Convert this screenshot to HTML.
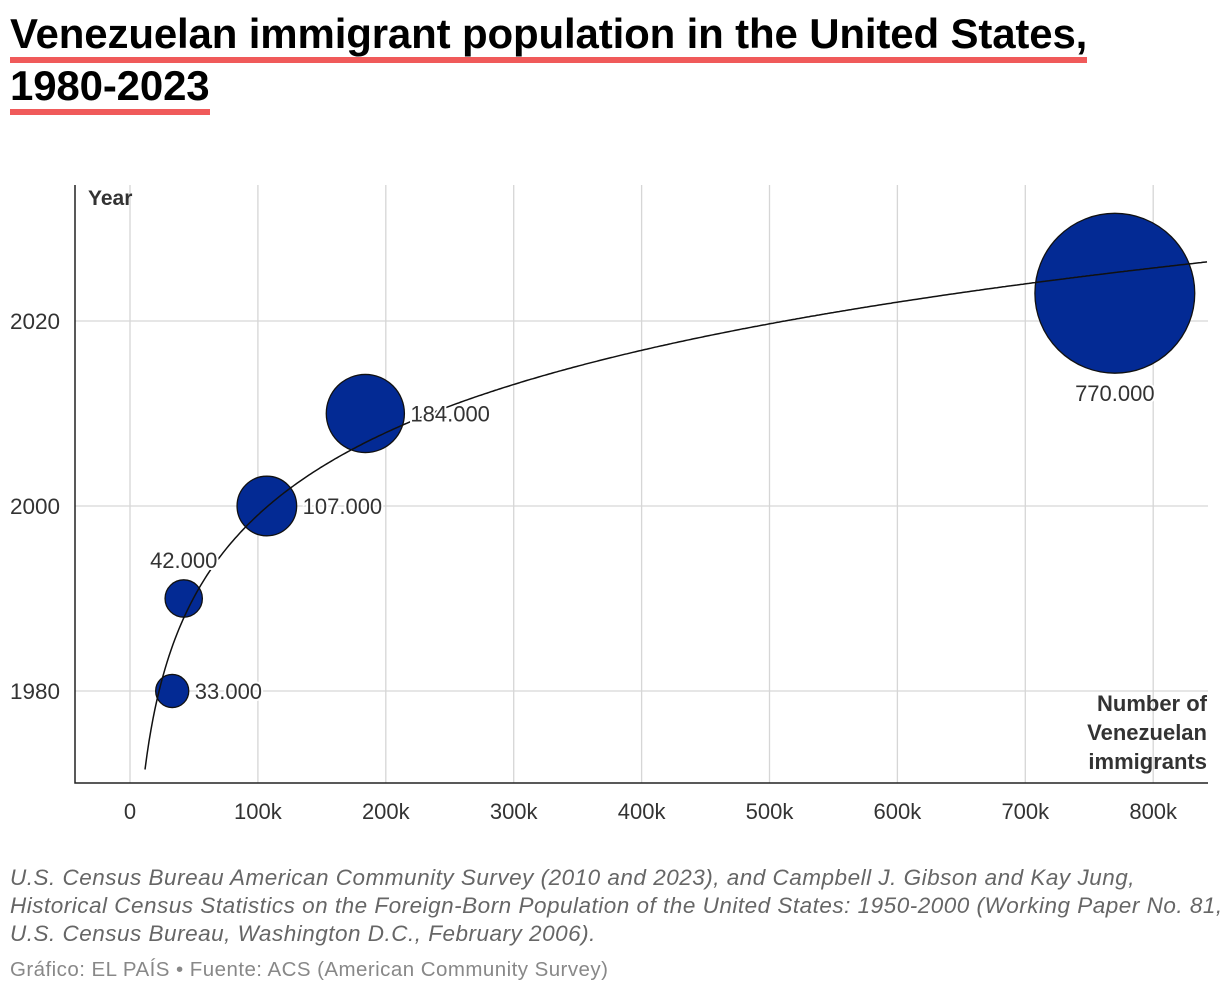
<!DOCTYPE html>
<html><head><meta charset="utf-8">
<style>
body{margin:0;width:1220px;height:994px;background:#fff;font-family:"Liberation Sans",sans-serif;overflow:hidden;position:relative}
h1{position:absolute;left:10px;top:8px;margin:0;font-size:42px;line-height:52px;font-weight:bold;color:#000;width:1200px;letter-spacing:-0.15px;white-space:nowrap}
h1 span{border-bottom:6px solid #f05a5a;padding-bottom:0}
.note{position:absolute;left:10px;top:864px;font-size:22.5px;line-height:28px;font-style:italic;color:#666;width:1210px;white-space:nowrap;letter-spacing:0.5px}
.credit{position:absolute;left:10px;top:958px;font-size:20.5px;color:#888;letter-spacing:0.45px}
svg{position:absolute;left:0;top:0}
</style></head><body>
<h1><span>Venezuelan immigrant population in the United States,</span><br><span>1980-2023</span></h1>
<svg id="chart" width="1220" height="994"></svg>
<div class="note">U.S. Census Bureau American Community Survey (2010 and 2023), and Campbell J. Gibson and Kay Jung,<br>Historical Census Statistics on the Foreign-Born Population of the United States: 1950-2000 (Working Paper No. 81,<br>U.S. Census Bureau, Washington D.C., February 2006).</div>
<div class="credit">Gráfico: EL PAÍS • Fuente: ACS (American Community Survey)</div>
<script>
const years = [1980, 1990, 2000, 2010, 2023];
const values = [33000, 42000, 107000, 184000, 770000];
const valueLabels = ["33.000", "42.000", "107.000", "184.000", "770.000"];
const xTicks = [0, 100000, 200000, 300000, 400000, 500000, 600000, 700000, 800000];
const xTickLabels = ["0", "100k", "200k", "300k", "400k", "500k", "600k", "700k", "800k"];
const yTicks = [1980, 2000, 2020];
const trendA = 1939.9, trendB = 12.84;

const NS = "http://www.w3.org/2000/svg";
const svg = document.getElementById('chart');
const L = 75, R = 1208, T = 185, B = 783;
const x = v => 130 + v / 100000 * 127.9;
const y = yr => 321 - (yr - 2020) * 9.25;
const rad = v => 2.88 * Math.sqrt(v / 1000);
function mk(tag, attrs, parent) {
  const e = document.createElementNS(NS, tag);
  for (const k in attrs) e.setAttribute(k, attrs[k]);
  (parent || svg).appendChild(e);
  return e;
}
xTicks.forEach((t, i) => {
  const g = mk('line', {x1: x(t), x2: x(t), y1: T, y2: B, stroke: '#d6d6d6', 'stroke-width': 1.3});
  
  
  const tx = mk('text', {x: x(t), y: 819, 'text-anchor': 'middle', 'font-size': 22, fill: '#333'});
  tx.textContent = xTickLabels[i];
  
  
});
yTicks.forEach(t => {
  const g = mk('line', {x1: L, x2: R, y1: y(t), y2: y(t), stroke: '#d6d6d6', 'stroke-width': 1.3});
  
  
  const tx = mk('text', {x: 10, y: y(t) + 8, 'font-size': 22.5, fill: '#333'});
  tx.textContent = t;
  
  
});
const ax = mk('path', {d: `M${L} ${T}V${B}H${R}`, fill: 'none', stroke: '#222', 'stroke-width': 1.5});


const yt = mk('text', {x: 88, y: 205, 'font-size': 21, 'font-weight': 'bold', fill: '#333'});
yt.textContent = 'Year';


['Number of', 'Venezuelan', 'immigrants'].forEach((s, i) => {
  const t = mk('text', {x: 1207, y: 711 + i * 29, 'text-anchor': 'end', 'font-size': 22, 'font-weight': 'bold', fill: '#333'});
  t.textContent = s;
  
  
});
years.forEach((yr, i) => {
  const c = mk('circle', {cx: x(values[i]), cy: y(yr), r: rad(values[i]), fill: '#032a94', stroke: '#111', 'stroke-width': 1.3});
  
  
});
let d = '';
for (let px = 145; px <= R; px += 2) {
  const v = (px - 130) / 127.9 * 100;
  const yr = trendA + trendB * Math.log(v);
  d += (d ? 'L' : 'M') + px + ' ' + y(yr).toFixed(1);
}
const tl = mk('path', {d, fill: 'none', stroke: '#111', 'stroke-width': 1.5});


years.forEach((yr, i) => {
  const r = rad(values[i]);
  let lx, ly, anchor = 'start';
  if (i === 1) { lx = x(values[i]); ly = y(yr) - r - 12; anchor = 'middle'; }
  else if (i === 4) { lx = x(values[i]); ly = y(yr) + r + 28; anchor = 'middle'; }
  else { lx = x(values[i]) + r + 6; ly = y(yr) + 8; }
  const t = mk('text', {x: lx, y: ly, 'text-anchor': anchor, 'font-size': 22, fill: '#333', stroke: '#fff', 'stroke-width': 4, 'paint-order': 'stroke'});
  t.textContent = valueLabels[i];
  
  
});
</script>
</body></html>
